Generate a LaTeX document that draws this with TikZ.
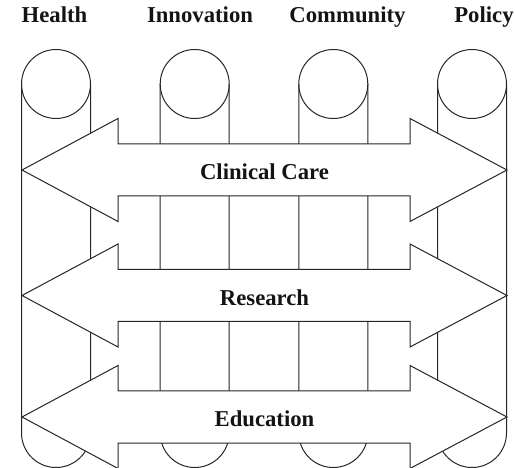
\documentclass[tikz,border=0pt]{standalone}
\usepackage{fontspec}
\setmainfont{Liberation Serif}

\def\rad{34.5}
\def\ytop{-84}
\def\ybot{-433}
\def\xa{56}
\def\xb{194.7}
\def\xc{333.3}
\def\xd{472}
\def\tipl{22}
\def\tipr{507}
\def\backl{118}
\def\backr{410}
\def\hw{51.5}
\def\sw{26}

\tikzset{
  pillar/.style={line width=1pt, draw=black!85},
  band/.style={line width=1pt, draw=black!85, fill=white},
  lbl/.style={anchor=base, font=\fontsize{22.7}{26}\selectfont\bfseries, text=black!92, inner sep=0pt}
}

\begin{document}
\begin{tikzpicture}[x=1pt,y=1pt]
\useasboundingbox (0,0) rectangle (515,-468);
% column labels
\node[lbl] (health) at (54.5,-23) {Health};
\node[lbl] (innovation) at (200,-23) {Innovation};
\node[lbl] (community) at (347.5,-23) {Community};
\node[lbl] (policy) at (484,-23) {Policy};
% pillars
\draw[pillar] (\xa,\ytop) circle (\rad);
\draw[pillar] ({\xa-\rad},\ytop) -- ({\xa-\rad},\ybot) arc[start angle=180, end angle=360, radius=\rad] -- ({\xa+\rad},\ytop);
\draw[pillar] (\xb,\ytop) circle (\rad);
\draw[pillar] ({\xb-\rad},\ytop) -- ({\xb-\rad},\ybot) arc[start angle=180, end angle=360, radius=\rad] -- ({\xb+\rad},\ytop);
\draw[pillar] (\xc,\ytop) circle (\rad);
\draw[pillar] ({\xc-\rad},\ytop) -- ({\xc-\rad},\ybot) arc[start angle=180, end angle=360, radius=\rad] -- ({\xc+\rad},\ytop);
\draw[pillar] (\xd,\ytop) circle (\rad);
\draw[pillar] ({\xd-\rad},\ytop) -- ({\xd-\rad},\ybot) arc[start angle=180, end angle=360, radius=\rad] -- ({\xd+\rad},\ytop);
% bands
\def\ca{-170}
\filldraw[band] (\tipl,\ca) -- (\backl,{\ca+\hw}) -- (\backl,{\ca+\sw}) -- (\backr,{\ca+\sw}) -- (\backr,{\ca+\hw}) -- (\tipr,\ca) -- (\backr,{\ca-\hw}) -- (\backr,{\ca-\sw}) -- (\backl,{\ca-\sw}) -- (\backl,{\ca-\hw}) -- cycle;
\node[lbl] (clinical) at (264.5,{\ca-10}) {Clinical Care};
\def\ca{-295.5}
\filldraw[band] (\tipl,\ca) -- (\backl,{\ca+\hw}) -- (\backl,{\ca+\sw}) -- (\backr,{\ca+\sw}) -- (\backr,{\ca+\hw}) -- (\tipr,\ca) -- (\backr,{\ca-\hw}) -- (\backr,{\ca-\sw}) -- (\backl,{\ca-\sw}) -- (\backl,{\ca-\hw}) -- cycle;
\node[lbl] (research) at (264.5,{\ca-10}) {Research};
\def\ca{-417}
\filldraw[band] (\tipl,\ca) -- (\backl,{\ca+\hw}) -- (\backl,{\ca+\sw}) -- (\backr,{\ca+\sw}) -- (\backr,{\ca+\hw}) -- (\tipr,\ca) -- (\backr,{\ca-\hw}) -- (\backr,{\ca-\sw}) -- (\backl,{\ca-\sw}) -- (\backl,{\ca-\hw}) -- cycle;
\node[lbl] (education) at (264.5,{\ca-10}) {Education};
\end{tikzpicture}
\end{document}
